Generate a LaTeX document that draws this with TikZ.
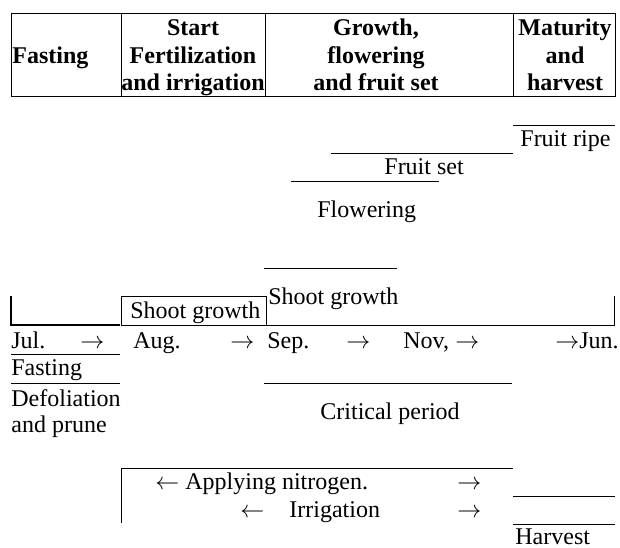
\documentclass[tikz,border=0pt]{standalone}
\usepackage{fontspec}
\setmainfont{Liberation Serif}
\begin{document}
\begin{tikzpicture}[x=0.5pt,y=-0.5pt,
  txt/.style={anchor=base west,inner sep=0pt,font=\fontsize{12}{14}\selectfont},
  hd/.style={anchor=base,inner sep=0pt,font=\fontsize{12}{14}\selectfont\bfseries},
  ln/.style={line width=0.5pt}]
\useasboundingbox (0,0) rectangle (620,547);
% table
\draw[ln] (11,13) rectangle (615,96);
\foreach \xx in {121,265,513} \draw[ln] (\xx,13) -- (\xx,96);
\node[hd,anchor=base west] (h1) at (12,63) {Fasting};
\node[hd] (h2a) at (193,35) {Start};
\node[hd] (h2b) at (193,63) {Fertilization};
\node[hd] (h2c) at (193,90) {and irrigation};
\node[hd] (h3a) at (376,35) {Growth,};
\node[hd] (h3b) at (376,63) {flowering};
\node[hd] (h3c) at (376,90) {and fruit set};
\node[hd] (h4a) at (565,35) {Maturity};
\node[hd] (h4b) at (565,63) {and};
\node[hd] (h4c) at (565,90) {harvest};
% phases
\draw[ln] (513,125) -- (615,125);
\node[txt] (ripe) at (520,146) {Fruit ripe};
\draw[ln] (331,153) -- (513,153);
\node[txt] (set) at (384,174) {Fruit set};
\draw[ln] (291,181) -- (439,181);
\node[txt] (flow) at (317,217) {Flowering};
\draw[ln] (264,268) -- (397,268);
\node[txt] (sg2) at (268,304) {Shoot growth};
\draw[line width=0.8pt] (11,296) -- (11,325) -- (120,325);
\draw[ln] (121,296) rectangle (266,325);
\node[txt] (sg1) at (130,318) {Shoot growth};
\draw[ln] (266,325) -- (614,325) -- (614,296);
% months
\node[txt] (jul) at (11,348) {Jul.};
\node[txt] (a1) at (80,348) {$\rightarrow$};
\node[txt] (aug) at (133,348) {Aug.};
\node[txt] (a2) at (230,348) {$\rightarrow$};
\node[txt] (sep) at (267,348) {Sep.};
\node[txt] (a3) at (346,348) {$\rightarrow$};
\node[txt] (nov) at (403,348) {Nov,};
\node[txt] (a4) at (455,348) {$\rightarrow$};
\node[txt] (jun) at (555,348) {$\rightarrow$Jun.};
\draw[ln] (11,354) -- (120,354);
\node[txt] (fast) at (11,375) {Fasting};
\draw[ln] (11,383) -- (120,383);
\node[txt] (defo) at (11,406) {Defoliation};
\node[txt] (prune) at (11,432) {and prune};
\draw[ln] (264,383) -- (512,383);
\node[txt] (crit) at (320,419) {Critical period};
% nitrogen / irrigation
\draw[ln] (121,523) -- (121,468) -- (513,468);
\node[txt] (nit) at (155,489) {$\leftarrow$ Applying nitrogen.};
\node[txt] (nitr) at (457,489) {$\rightarrow$};
\node[txt] (irl) at (240,517) {$\leftarrow$};
\node[txt] (irr) at (289,517) {Irrigation};
\node[txt] (irrr) at (457,517) {$\rightarrow$};
\draw[ln] (513,496) -- (615,496);
\draw[ln] (513,524) -- (615,524);
\node[txt] (harv) at (515,544) {Harvest};
\end{tikzpicture}
\end{document}
